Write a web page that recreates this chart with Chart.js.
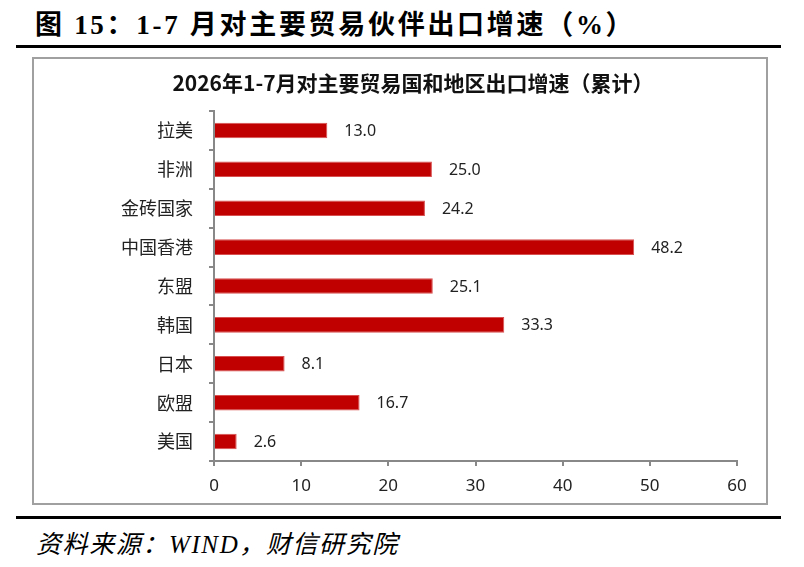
<!DOCTYPE html>
<html>
<head>
<meta charset="utf-8">
<script src="https://cdn.jsdelivr.net/npm/chart.js@4/dist/chart.umd.min.js"></script>
<style>
  html, body { margin: 0; padding: 0; background: #fff; }
  body { width: 804px; height: 567px; position: relative; overflow: hidden; }
  #fig-title {
    position: absolute; left: 35px; top: 3px;
    font: bold 27px "Liberation Serif", "Noto Sans CJK SC", serif;
    letter-spacing: 2.7px; color: #000; white-space: nowrap;
  }
  .rule { position: absolute; left: 16px; width: 765px; height: 3px; background: #000; }
  #box {
    position: absolute; left: 32px; top: 57px; width: 732px; height: 444px;
    border: 2px solid #a0a0a0;
  }
  #chart-title {
    position: absolute; left: 0; top: 8px; width: 758px; text-align: center;
    font: bold 21px "Noto Sans CJK SC", sans-serif; color: #111; white-space: nowrap;
  }
  #source {
    position: absolute; left: 36px; top: 524px;
    font: italic 25px "Liberation Serif", "Noto Sans CJK SC", serif;
    letter-spacing: 1.6px; color: #000; white-space: nowrap;
  }
</style>
</head>
<body>
<div id="fig-title">图 15：1-7 月对主要贸易伙伴出口增速（%）</div>
<div class="rule" style="top:45px"></div>
<div id="box">
  <canvas id="exportChart"></canvas>
  <div id="chart-title">2026年1-7月对主要贸易国和地区出口增速（累计）</div>
</div>
<div class="rule" style="top:516px"></div>
<div id="source">资料来源：WIND，财信研究院</div>

<script>
// Categories (top to bottom) and growth rates, %
const partners = ['拉美', '非洲', '金砖国家', '中国香港', '东盟', '韩国', '日本', '欧盟', '美国'];
const growth = [13.0, 25.0, 24.2, 48.2, 25.1, 33.3, 8.1, 16.7, 2.6];
const xTicks = [0, 10, 20, 30, 40, 50, 60];

// Value labels drawn just past the end of each bar
const valueLabels = {
    id: 'valueLabels',
    afterDatasetsDraw(chart) {
        const ctx = chart.ctx;
        const meta = chart.getDatasetMeta(0);
        ctx.save();
        ctx.font = '16px "Noto Sans", sans-serif';
        ctx.fillStyle = '#222';
        ctx.textAlign = 'left';
        ctx.textBaseline = 'middle';
        meta.data.forEach((bar, i) => {
            ctx.fillText(growth[i].toFixed(1), bar.x + 17, bar.y + 1);
        });
        ctx.restore();
    }
};

const ctx = document.getElementById('exportChart').getContext('2d');
new Chart(ctx, {
    type: 'bar',
    data: {
        labels: partners,
        datasets: [{
            data: growth,
            backgroundColor: '#C00000',
            borderColor: '#d85050',
            borderWidth: 1,
            borderSkipped: 'left',
            categoryPercentage: 1,
            barPercentage: 0.4
        }]
    },
    options: {
        indexAxis: 'y',
        responsive: true,
        maintainAspectRatio: false,
        animation: false,
        layout: { padding: { top: 52, right: 29, bottom: 0, left: 0 } },
        plugins: {
            legend: { display: false },
            tooltip: { enabled: false },
            title: { display: false }
        },
        scales: {
            x: {
                min: 0,
                max: 60,
                afterBuildTicks: axis => { axis.ticks = xTicks.map(v => ({ value: v })); },
                afterFit: axis => { axis.height = 42; },
                grid: { drawOnChartArea: false, drawTicks: true, tickLength: 5, color: '#888', lineWidth: 2 },
                border: { color: '#888', width: 2 },
                ticks: { padding: 10, color: '#222', font: { family: 'Noto Sans', size: 17 } }
            },
            y: {
                afterFit: axis => { axis.width = 180; },
                grid: { offset: true, drawOnChartArea: false, drawTicks: true, tickLength: 5, color: '#888', lineWidth: 2 },
                border: { color: '#888', width: 2 },
                ticks: { padding: 16, color: '#222', font: { family: 'Noto Sans CJK SC', size: 18 } }
            }
        }
    },
    plugins: [valueLabels]
});
</script>
</body>
</html>
